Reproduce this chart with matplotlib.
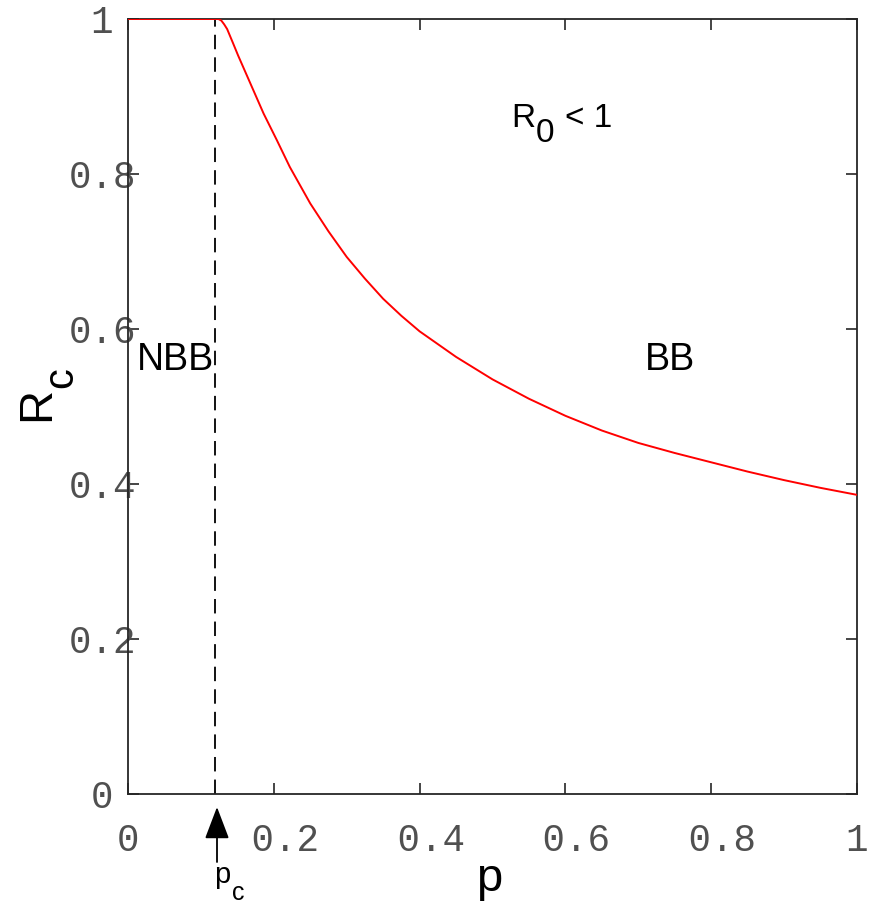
import matplotlib
matplotlib.use('Agg')
import matplotlib.pyplot as plt

# curve
p = [0.0, 0.12, 0.124, 0.128, 0.132, 0.136, 0.14, 0.144, 0.151, 0.158, 0.172,
     0.186, 0.204, 0.222, 0.25, 0.275, 0.30, 0.325, 0.35, 0.375, 0.40, 0.45,
     0.50, 0.55, 0.60, 0.65, 0.70, 0.75, 0.80, 0.85, 0.90, 0.95, 1.0]
Rc = [1.0, 1.0, 1.0, 0.998, 0.993, 0.987, 0.978, 0.969, 0.953, 0.938, 0.908,
      0.878, 0.844, 0.809, 0.762, 0.726, 0.693, 0.665, 0.639, 0.617, 0.597, 0.564,
      0.535, 0.510, 0.488, 0.469, 0.453, 0.440, 0.428, 0.416, 0.405, 0.395, 0.386]
pc = 0.12
ticks = [0, 0.2, 0.4, 0.6, 0.8, 1]
xticklabels = ['0', ' 0.2', ' 0.4', ' 0.6', ' 0.8', '1']
yticklabels = ['0 ', '0.2', '0.4', '0.6', '0.8', '1 ']

W, H = 869, 905
fig = plt.figure(figsize=(W / 100, H / 100), dpi=100)
ax = fig.add_axes([128 / W, 1 - 794 / H, 729 / W, 775 / H])

ax.plot(p, Rc, color='#ff0000', lw=1.4, zorder=3)
ax.plot([pc, pc], [0, 1], color='black', lw=1.3, dashes=(8, 4.5), zorder=2)

ax.set_xlim(0, 1)
ax.set_ylim(0, 1)
ax.set_xticks(ticks)
ax.set_xticklabels(xticklabels)
ax.set_yticks(ticks)
ax.set_yticklabels(yticklabels)
for s in ax.spines.values():
    s.set_color('#262626')
    s.set_linewidth(1.3)
ax.tick_params(axis='both', direction='in', length=8, width=1.2, color='#262626',
               labelcolor='#505050', top=True, right=True, labelsize=27)
ax.tick_params(axis='x', pad=21)
ax.tick_params(axis='y', pad=-6)
for lab in ax.get_xticklabels() + ax.get_yticklabels():
    lab.set_family('Liberation Mono')


def put(s, x, y, size, **kw):
    # x, y in pixels from the top-left corner of the image
    ax.annotate(s, xy=(x, H - y), xycoords='figure pixels', fontsize=size,
                family='Liberation Sans', annotation_clip=False, **kw)


# axis labels
put('p', 489, 891, 34, ha='center', va='baseline')
put('R', 49, 421, 34, rotation=90, rotation_mode='anchor', ha='left', va='baseline')
put('c', 72, 388, 30, rotation=90, rotation_mode='anchor', ha='left', va='baseline')

# region labels
ax.text(0.012, 0.56, 'NBB', fontsize=27, family='Liberation Sans', va='center', ha='left')
ax.text(0.744, 0.56, 'BB', fontsize=27, family='Liberation Sans', va='center', ha='center')
put('R', 511, 127, 24, ha='left', va='baseline')
put('0', 536, 142, 24, ha='left', va='baseline')
put('< 1', 565, 127, 24, ha='left', va='baseline')

# p_c marker
ax.annotate('', xy=(217, H - 807), xytext=(217, H - 862), xycoords='figure pixels',
            annotation_clip=False,
            arrowprops=dict(arrowstyle='-|>,head_length=1.0,head_width=0.38',
                            mutation_scale=20, color='black', lw=1.3,
                            shrinkA=0, shrinkB=0))
put('p', 214, 883, 21, ha='left', va='baseline')
put('c', 232, 900, 18, ha='left', va='baseline')

fig.savefig('out.png', dpi=100)
